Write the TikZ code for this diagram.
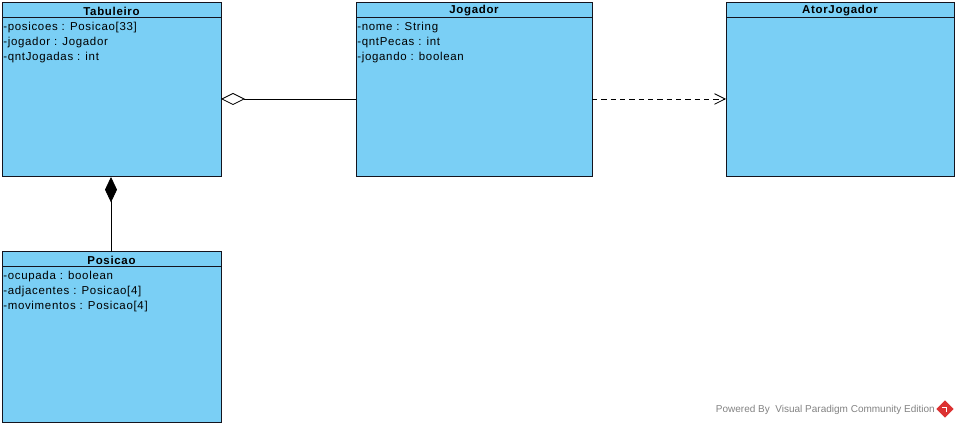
\documentclass[tikz,border=0pt]{standalone}
\usepackage{fontspec}
\setmainfont{Liberation Sans}
\newfontfamily\umlfont[LetterSpace=6]{Liberation Sans}
\usetikzlibrary{arrows.meta,shapes.geometric}
\definecolor{classfill}{RGB}{122,207,245}
\definecolor{classline}{RGB}{20,20,30}
\definecolor{wmgray}{RGB}{130,130,130}
\definecolor{wmred}{RGB}{220,50,50}
\begin{document}
\begin{tikzpicture}[x=0.75pt,y=-0.75pt,
  classbox/.style={draw=classline,fill=classfill,line width=0.75pt},
  classname/.style={font=\umlfont\fontsize{8.6}{10}\selectfont\bfseries,anchor=center,inner sep=0pt},
  attr/.style={font=\umlfont\fontsize{8.6}{10}\selectfont,anchor=west,inner sep=0pt},
  assoc/.style={draw=black,line width=0.6pt}]
\useasboundingbox (0,0) rectangle (957,427);

% Tabuleiro
\draw[classbox] (2,3) rectangle (221,177);
\draw[classline,line width=0.75pt] (2,18) -- (221,18);
\node[classname] (tabn) at (111.5,11) {Tabuleiro};
\node[attr] (tab1) at (3,28) {-posicoes : Posicao[33]};
\node[attr] (tab2) at (3,43) {-jogador : Jogador};
\node[attr] (tab3) at (3,58) {-qntJogadas : int};
\coordinate (tabR) at (221,99);
\coordinate (tabB) at (111,177);

% Jogador
\draw[classbox] (356,3) rectangle (592,177);
\draw[classline,line width=0.75pt] (356,18) -- (592,18);
\node[classname] (jogn) at (474,11) {Jogador};
\node[attr] (jog1) at (357,28) {-nome : String};
\node[attr] (jog2) at (357,43) {-qntPecas : int};
\node[attr] (jog3) at (357,58) {-jogando : boolean};
\coordinate (jogL) at (356,99);
\coordinate (jogR) at (592,99);

% AtorJogador
\draw[classbox] (726,3) rectangle (954,177);
\draw[classline,line width=0.75pt] (726,18) -- (954,18);
\node[classname] (atorn) at (840,11) {AtorJogador};
\coordinate (atorL) at (726,99);

% Posicao
\draw[classbox] (2,252) rectangle (221,423);
\draw[classline,line width=0.75pt] (2,267) -- (221,267);
\node[classname] (posn) at (111.5,260) {Posicao};
\node[attr] (pos1) at (3,277) {-ocupada : boolean};
\node[attr] (pos2) at (3,292) {-adjacentes : Posicao[4]};
\node[attr] (pos3) at (3,307) {-movimentos : Posicao[4]};
\coordinate (posT) at (111,252);

% aggregation Tabuleiro <>--- Jogador
\draw[assoc,{Diamond[open,fill=white,length=18pt,width=9pt]}-] (tabR) -- (jogL);
% dependency Jogador - - -> AtorJogador
\draw[assoc,dashed,dash pattern=on 4pt off 3pt,-{Straight Barb[length=8pt,width=8pt]}] (jogR) -- (atorL);
% composition Tabuleiro <#>--- Posicao
\draw[assoc,{Diamond[fill=black,length=19pt,width=9pt]}-] (tabB) -- (posT);

% watermark
\node[font=\fontsize{7.5}{9}\selectfont,text=wmgray,anchor=east,inner sep=0pt] (wm) at (935,410) {Powered By\ \ Visual Paradigm Community Edition};
\node[diamond,fill=wmred,minimum size=13pt,inner sep=0pt] (logo) at (945,409) {};
\draw[white,line width=1.2pt] ([xshift=-2pt,yshift=1pt]logo.center) -- ([xshift=1pt,yshift=1pt]logo.center) -- ([xshift=1pt,yshift=-2pt]logo.center);
\end{tikzpicture}
\end{document}
